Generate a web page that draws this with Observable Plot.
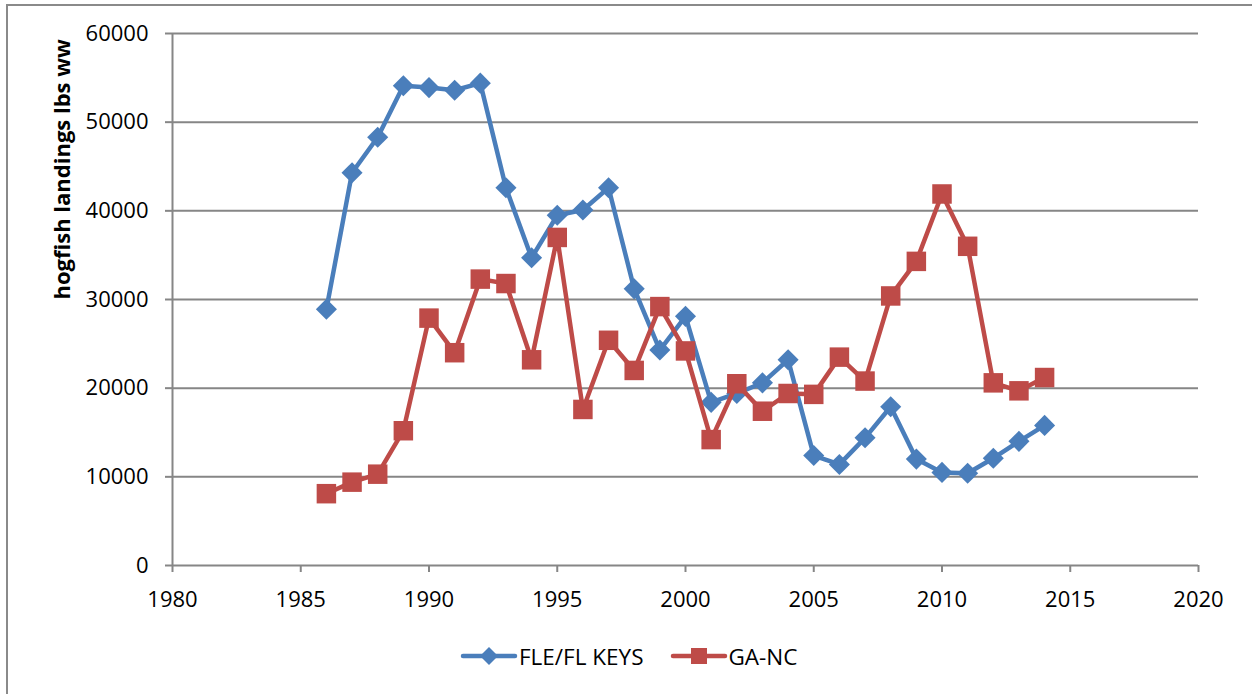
<!DOCTYPE html>
<html>
<head>
<meta charset="utf-8">
<script src="https://cdn.jsdelivr.net/npm/d3@7"></script>
<script src="https://cdn.jsdelivr.net/npm/@observablehq/plot@0.6"></script>
<style>
  html, body { margin: 0; padding: 0; background: #fff; overflow: hidden; }
  body { width: 1252px; height: 694px; position: relative; font-family: "Open Sans", sans-serif; }
  #frame { position: absolute; left: 6px; top: 4px; width: 1260px; height: 710px; border: 2px solid #8a8a8a; box-sizing: border-box; pointer-events: none; }
  #chart { position: absolute; left: 0; top: 0; }
  #legend { position: absolute; left: 460px; top: 640px; height: 32px; display: flex; align-items: center; font-size: 22.5px; color: #000; }
  #legend .item { display: flex; align-items: center; }
  #legend svg { display: block; }
</style>
</head>
<body>
<div id="chart"></div>
<div id="legend"></div>
<div id="frame"></div>
<script>
const years = [1986, 1987, 1988, 1989, 1990, 1991, 1992, 1993, 1994, 1995, 1996, 1997, 1998, 1999, 2000, 2001, 2002, 2003, 2004, 2005, 2006, 2007, 2008, 2009, 2010, 2011, 2012, 2013, 2014];
const fleKeys = [28900, 44300, 48300, 54100, 53900, 53600, 54400, 42600, 34700, 39500, 40100, 42600, 31200, 24300, 28100, 18400, 19400, 20600, 23200, 12400, 11400, 14400, 17900, 12000, 10500, 10400, 12100, 14000, 15800];
const gaNc = [8100, 9400, 10300, 15200, 27900, 24000, 32300, 31800, 23200, 37000, 17600, 25400, 22000, 29200, 24200, 14200, 20500, 17400, 19400, 19300, 23500, 20800, 30400, 34300, 41900, 36000, 20600, 19700, 21200];
const seriesNames = ["FLE/FL KEYS", "GA-NC"];
const seriesColors = ["#4a7ebb", "#be4b48"];
const xTicks = [1980, 1985, 1990, 1995, 2000, 2005, 2010, 2015, 2020];
const yTicks = [0, 10000, 20000, 30000, 40000, 50000, 60000];
const yTitle = "hogfish landings lbs ww";

const fleData = years.map((y, i) => ({year: y, value: fleKeys[i]}));
const gaData = years.map((y, i) => ({year: y, value: gaNc[i]}));
const gridColor = "#868686";

const chart = Plot.plot({
  width: 1252,
  height: 630,
  marginLeft: 172,
  marginRight: 54,
  marginTop: 33,
  marginBottom: 65,
  style: {fontFamily: "'Open Sans', sans-serif", fontSize: "22px", color: "#000", background: "transparent"},
  x: {domain: [1980, 2020]},
  y: {domain: [0, 60000]},
  marks: [
    Plot.gridY(yTicks.filter(d => d > 0), {stroke: gridColor, strokeOpacity: 1, strokeWidth: 2}),
    Plot.ruleY([0], {stroke: gridColor, strokeWidth: 2}),
    Plot.ruleX([1980], {stroke: gridColor, strokeWidth: 2}),
    Plot.axisY({ticks: yTicks, tickSize: 7, tickPadding: 17, stroke: gridColor, strokeWidth: 2, strokeOpacity: 1, label: null, tickFormat: d => String(d), fontSize: 22, fill: "#000"}),
    Plot.axisX({ticks: xTicks, tickSize: 7, tickPadding: 19, stroke: gridColor, strokeWidth: 2, strokeOpacity: 1, label: null, tickFormat: d => String(d), fontSize: 22, fill: "#000"}),
    Plot.text([yTitle], {frameAnchor: "left", dx: -110, rotate: -90, fontWeight: "bold", fontSize: 22, fill: "#000"}),
    Plot.line(fleData, {x: "year", y: "value", stroke: seriesColors[0], strokeWidth: 4.5, strokeLinejoin: "round", strokeLinecap: "round"}),
    Plot.dot(fleData, {x: "year", y: "value", symbol: "diamond2", r: 9.5, fill: seriesColors[0], stroke: "none"}),
    Plot.line(gaData, {x: "year", y: "value", stroke: seriesColors[1], strokeWidth: 4.5, strokeLinejoin: "round", strokeLinecap: "round"}),
    Plot.dot(gaData, {x: "year", y: "value", symbol: "square", r: 11, fill: seriesColors[1], stroke: "none"})
  ]
});
document.getElementById("chart").appendChild(chart);

// Legend
const legend = document.getElementById("legend");
const ns = "http://www.w3.org/2000/svg";
seriesNames.forEach((name, i) => {
  const item = document.createElement("div");
  item.className = "item";
  item.style.marginRight = i === 0 ? "26px" : "0";
  const svg = document.createElementNS(ns, "svg");
  svg.setAttribute("width", 58);
  svg.setAttribute("height", 24);
  const line = document.createElementNS(ns, "line");
  line.setAttribute("x1", 3); line.setAttribute("x2", 55);
  line.setAttribute("y1", 12); line.setAttribute("y2", 12);
  line.setAttribute("stroke", seriesColors[i]);
  line.setAttribute("stroke-width", 4.5);
  line.setAttribute("stroke-linecap", "round");
  svg.appendChild(line);
  const m = document.createElementNS(ns, "path");
  if (i === 0) m.setAttribute("d", "M29,3L38,12L29,21L20,12Z");
  else m.setAttribute("d", "M21,4H37V20H21Z");
  m.setAttribute("fill", seriesColors[i]);
  svg.appendChild(m);
  item.appendChild(svg);
  const t = document.createElement("span");
  t.textContent = name;
  t.style.marginLeft = "1px";
  item.appendChild(t);
  legend.appendChild(item);
});
</script>
</body>
</html>
